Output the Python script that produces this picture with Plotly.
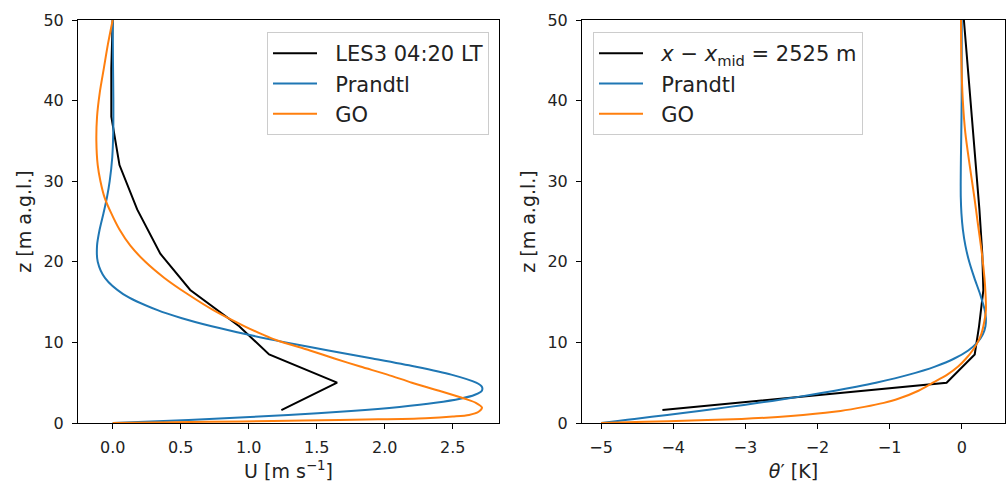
import plotly.graph_objects as go

# ---------------- data ----------------
# LES3 profile (black)
z_les = [1.6, 5.0, 8.5, 12.0, 16.5, 21.0, 26.5, 32.0, 38.0, 44.0, 50.0]
u_les = [1.24, 1.65, 1.15, 0.93, 0.57, 0.35, 0.18, 0.05, -0.01, -0.01, 0.0]
th_les = [-4.15, -0.21, 0.18, 0.24, 0.30, 0.285, 0.245, 0.19, 0.14, 0.085, 0.03]

# Prandtl model (blue)
z_pr = [0, 0.25, 0.5, 1, 1.5, 2, 2.5, 3, 3.5, 4, 4.5, 5, 6, 7, 8, 9, 10, 11, 12, 13,
        14, 16, 18, 20, 22, 24, 26, 28, 30, 33, 36, 40, 45, 50]
u_pr = [0, 0.373, 0.711, 1.291, 1.752, 2.109, 2.372, 2.554, 2.663, 2.714, 2.714, 2.672,
        2.489, 2.221, 1.910, 1.586, 1.272, 0.983, 0.728, 0.509, 0.330, 0.077, -0.057,
        -0.110, -0.115, -0.096, -0.068, -0.042, -0.022, -0.003, 0.004, 0.005, 0.002, 0.0]
th_pr = [-5, -4.769, -4.538, -4.084, -3.642, -3.218, -2.816, -2.437, -2.085, -1.759,
         -1.461, -1.190, -0.731, -0.371, -0.102, 0.090, 0.218, 0.293, 0.329, 0.335,
         0.319, 0.254, 0.175, 0.104, 0.051, 0.016, -0.004, -0.013, -0.014, -0.011,
         -0.006, -0.001, 0.0, 0.0]

# GO model (orange)
z_go_u = [0, 0.1, 0.2, 0.3, 0.45, 0.6, 0.8, 1.0, 1.4, 1.9, 2.5, 3.0, 4.0, 5.0, 6.0, 7.0,
          8.0, 9.0, 10.3, 11, 12, 14, 16, 18, 20, 22, 24, 26, 28, 30, 32, 35, 38, 41,
          44, 47, 50]
u_go = [0, 0.45, 0.95, 1.4, 1.95, 2.3, 2.5, 2.62, 2.69, 2.715, 2.67, 2.59, 2.4, 2.2,
        2.02, 1.82, 1.63, 1.45, 1.2, 1.1, 0.97, 0.74, 0.55, 0.38, 0.24, 0.13, 0.05,
        -0.01, -0.06, -0.09, -0.11, -0.12, -0.115, -0.095, -0.065, -0.035, 0.0]
z_go_th = [0, 0.15, 0.3, 0.5, 0.75, 1.0, 1.5, 2.0, 2.5, 3.0, 4.0, 5.0, 6.0, 7.0, 8.0,
           9.0, 10, 11, 12, 14, 16, 18, 21, 25, 28, 32, 36, 40, 45, 50]
th_go = [-5.0, -4.4, -3.75, -3.05, -2.55, -2.2, -1.68, -1.35, -1.08, -0.88, -0.6, -0.4,
         -0.2, -0.05, 0.06, 0.15, 0.22, 0.27, 0.30, 0.335, 0.33, 0.315, 0.28, 0.22,
         0.175, 0.11, 0.05, 0.015, -0.005, -0.01]

u_ticks = [0.0, 0.5, 1.0, 1.5, 2.0, 2.5]
th_ticks = [-5, -4, -3, -2, -1, 0]
z_ticks = [0, 10, 20, 30, 40, 50]

BLUE = "#1f77b4"
ORANGE = "#ff7f0e"
FONT = "DejaVu Sans"
LW = 2
SP = "\u00a0\u00a0"  # small gap between legend line sample and label

fig = go.Figure()

fig.add_trace(go.Scatter(x=u_les, y=z_les, mode="lines", name=SP + "LES3 04:20 LT",
                         line=dict(color="black", width=LW), xaxis="x", yaxis="y",
                         legend="legend"))
fig.add_trace(go.Scatter(x=u_pr, y=z_pr, mode="lines", name=SP + "Prandtl",
                         line=dict(color=BLUE, width=LW, shape="spline", smoothing=0.8),
                         xaxis="x", yaxis="y", legend="legend"))
fig.add_trace(go.Scatter(x=u_go, y=z_go_u, mode="lines", name=SP + "GO",
                         line=dict(color=ORANGE, width=LW, shape="spline", smoothing=0.8),
                         xaxis="x", yaxis="y", legend="legend"))

fig.add_trace(go.Scatter(x=th_les, y=z_les, mode="lines",
                         name=SP + "<i>x</i> − <i>x</i><sub>mid</sub> = 2525 m",
                         line=dict(color="black", width=LW), xaxis="x2", yaxis="y2",
                         legend="legend2"))
fig.add_trace(go.Scatter(x=th_pr, y=z_pr, mode="lines", name=SP + "Prandtl",
                         line=dict(color=BLUE, width=LW, shape="spline", smoothing=0.8),
                         xaxis="x2", yaxis="y2", legend="legend2"))
fig.add_trace(go.Scatter(x=th_go, y=z_go_th, mode="lines", name=SP + "GO",
                         line=dict(color=ORANGE, width=LW, shape="spline", smoothing=0.8),
                         xaxis="x2", yaxis="y2", legend="legend2"))

W, H = 1007, 486
ml, mr, mt, mb = 78, 2, 20, 63
pw = W - ml - mr

axis_common = dict(showgrid=False, zeroline=False, showline=True, linecolor="black",
                   linewidth=1, mirror=True, ticks="outside", ticklen=5,
                   tickcolor="black", tickwidth=1, ticklabelstandoff=5,
                   tickfont=dict(family=FONT, size=16, color="#222"))

legend_common = dict(yanchor="top", bgcolor="rgba(255,255,255,0.8)",
                     bordercolor="#cccccc", borderwidth=1,
                     font=dict(family=FONT, size=21, color="#222"),
                     tracegroupgap=0, itemwidth=44)

fig.update_layout(
    width=W, height=H,
    margin=dict(l=ml, r=mr, t=mt, b=mb, pad=0),
    paper_bgcolor="white", plot_bgcolor="white",
    font=dict(family=FONT, color="#222"),
    xaxis=dict(domain=[0, (499 - ml) / pw], range=[-0.255, 2.84], tickvals=u_ticks,
               ticktext=["0.0", "0.5", "1.0", "1.5", "2.0", "2.5"],
               title=dict(text="U [m s<sup>−1</sup>]", font=dict(family=FONT, size=19),
                          standoff=8),
               anchor="y", **axis_common),
    yaxis=dict(domain=[0, 1], range=[0, 50], tickvals=z_ticks,
               title=dict(text="z [m a.g.l.]", font=dict(family=FONT, size=19),
                          standoff=6),
               anchor="x", **axis_common),
    xaxis2=dict(domain=[(582 - ml) / pw, 1], range=[-5.265, 0.6], tickvals=th_ticks,
                ticktext=["−5", "−4", "−3", "−2", "−1", "0"],
                title=dict(text="<i>θ</i>′ [K]", font=dict(family=FONT, size=19),
                           standoff=8),
                anchor="y2", **axis_common),
    yaxis2=dict(domain=[0, 1], range=[0, 50], tickvals=z_ticks,
                title=dict(text="z [m a.g.l.]", font=dict(family=FONT, size=19),
                           standoff=6),
                anchor="x2", **axis_common),
    legend=dict(x=(489 - ml) / pw, y=1 - (32 - mt) / (H - mt - mb), xanchor="right",
                **legend_common),
    legend2=dict(x=(593 - ml) / pw, y=1 - (32 - mt) / (H - mt - mb), xanchor="left",
                 **legend_common),
)

fig.write_html("out.html")
